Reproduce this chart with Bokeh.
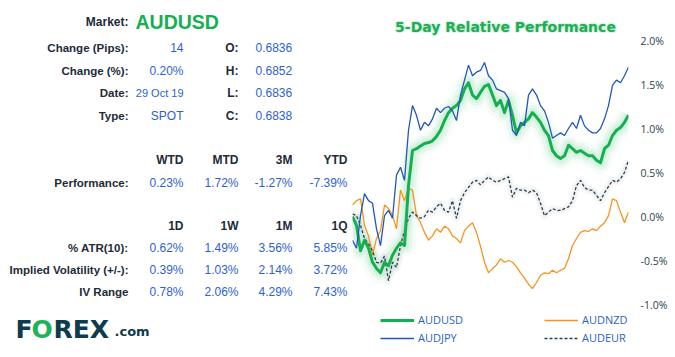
from bokeh.plotting import figure
from bokeh.layouts import row
from bokeh.models import (Range1d, LinearAxis, FixedTicker, PrintfTickFormatter,
                          Legend, Label)
from bokeh.core.properties import value
from bokeh.embed import file_html
from bokeh.resources import INLINE

# ---------------- data ----------------
market = "AUDUSD"
info_labels = ["Change (Pips):", "Change (%):", "Date:", "Type:"]
info_values = ["14", "0.20%", "29 Oct 19", "SPOT"]
ohlc_labels = ["O:", "H:", "L:", "C:"]
ohlc_values = ["0.6836", "0.6852", "0.6836", "0.6838"]
perf_headers = ["WTD", "MTD", "3M", "YTD"]
perf_label = "Performance:"
perf_values = ["0.23%", "1.72%", "-1.27%", "-7.39%"]
vol_headers = ["1D", "1W", "1M", "1Q"]
vol_labels = ["% ATR(10):", "Implied Volatility (+/-):", "IV Range"]
atr_values = ["0.62%", "1.49%", "3.56%", "5.85%"]
iv_values = ["0.39%", "1.03%", "2.14%", "3.72%"]
ivr_values = ["0.78%", "2.06%", "4.29%", "7.43%"]

chart_title = "5-Day Relative Performance"
y_ticks = [-1.0, -0.5, 0.0, 0.5, 1.0, 1.5, 2.0]

audusd = [0.00, -0.10, -0.39, -0.27, -0.36, -0.52, -0.59, -0.64, -0.52, -0.56,
          -0.44, -0.36, -0.30, -0.33, 0.35, 0.75, 0.77, 0.80, 0.83, 0.84,
          0.86, 0.91, 0.98, 1.09, 1.18, 1.23, 1.26, 1.32, 1.45, 1.52,
          1.38, 1.34, 1.41, 1.48, 1.50, 1.38, 1.26, 1.32, 1.18, 1.32,
          1.15, 0.95, 1.03, 1.07, 1.11, 1.18, 1.13, 1.07, 0.98, 0.92,
          0.75, 0.69, 0.66, 0.69, 0.81, 0.77, 0.73, 0.75, 0.72, 0.69,
          0.69, 0.64, 0.61, 0.77, 0.81, 0.92, 0.98, 1.01, 1.07, 1.15]
audjpy = [-0.27, -0.36, 0.01, 0.26, 0.18, 0.15, -0.14, -0.33, 0.01, 0.07,
          -0.02, 0.47, 0.56, 0.41, 0.98, 1.26, 1.15, 0.98, 1.07, 1.03,
          1.11, 1.23, 1.18, 1.23, 1.25, 1.20, 1.09, 1.38, 1.55, 1.72,
          1.60, 1.64, 1.66, 1.75, 1.60, 1.55, 1.45, 1.43, 1.41, 1.34,
          0.98, 0.92, 1.07, 1.03, 1.38, 1.45, 1.38, 1.26, 1.20, 1.07,
          0.89, 0.92, 0.95, 0.92, 1.00, 1.07, 1.00, 1.15, 1.03, 0.98,
          0.95, 0.95, 1.00, 1.11, 1.26, 1.49, 1.55, 1.52, 1.60, 1.70]
audnzd = [0.13, 0.18, 0.20, -0.10, -0.22, -0.44, -0.25, -0.16, 0.13, 0.09,
          0.01, -0.14, 0.30, 0.18, 0.32, 0.30, 0.01, -0.07, -0.18, -0.27,
          -0.22, -0.14, -0.18, -0.11, -0.14, -0.22, -0.25, -0.30, -0.16, -0.11,
          -0.07, -0.18, -0.34, -0.52, -0.64, -0.59, -0.55, -0.48, -0.52, -0.50,
          -0.52, -0.57, -0.64, -0.70, -0.77, -0.82, -0.75, -0.67, -0.64, -0.65,
          -0.61, -0.64, -0.61, -0.59, -0.48, -0.33, -0.25, -0.18, -0.16, -0.17,
          -0.14, -0.16, -0.11, -0.07, 0.01, 0.20, 0.18, 0.05, -0.07, 0.05]
audeur = [0.03, 0.01, -0.10, -0.25, -0.31, -0.39, -0.52, -0.53, -0.45, -0.73,
          -0.52, -0.58, -0.33, -0.16, -0.02, 0.05, 0.01, -0.02, 0.00, 0.07,
          0.05, 0.11, 0.15, 0.07, 0.05, 0.18, -0.02, 0.18, 0.27, 0.33,
          0.39, 0.41, 0.36, 0.41, 0.45, 0.41, 0.39, 0.41, 0.43, 0.45,
          0.22, 0.32, 0.30, 0.30, 0.27, 0.30, 0.27, 0.15, 0.01, 0.05,
          0.09, 0.07, 0.07, 0.09, 0.11, 0.18, 0.35, 0.41, 0.33, 0.30,
          0.30, 0.24, 0.18, 0.27, 0.34, 0.41, 0.39, 0.43, 0.50, 0.64]

# ---------------- style ----------------
LABEL_C = "#1e2b38"
VALUE_C = "#2e5fcf"
GREEN = "#14b04f"
BLUE = "#2356b8"
ORANGE = "#f7941d"
DARK = "#2a3f4c"
TFONT = value("Liberation Sans")
CFONT = "Open Sans"

# ---------------- left panel (table) ----------------
LW, H = 348, 356
left = figure(width=LW, height=H, x_range=Range1d(0, LW), y_range=Range1d(H, 0),
              output_backend="svg", toolbar_location=None,
              x_axis_type=None, y_axis_type=None, min_border=0)
left.grid.visible = False
left.outline_line_color = None

LAB_R = 128
COL_R = [183, 238, 292, 347]
OHLC_LAB_R = 238
OHLC_VAL_L = 255

row_market = 21
rows_info = [47, 70, 92, 115]
row_perf_h, row_perf = 159, 182
row_vol_h = 225
rows_vol = [247, 269, 291]

def txt(xs, ys, texts, size, color, align, bold):
    left.text(x=xs, y=ys, text=texts, text_font=TFONT,
              text_font_style="bold" if bold else "normal",
              text_font_size=size, text_color=color, text_align=align,
              text_baseline="middle")

txt([LAB_R], [row_market], ["Market:"], "12px", LABEL_C, "right", True)
txt([135], [row_market], [market], "19.5px", GREEN, "left", True)
txt([LAB_R] * 4, rows_info, info_labels, "11.5px", LABEL_C, "right", True)
txt([COL_R[0]] * 3, [rows_info[0], rows_info[1], rows_info[3]],
    [info_values[0], info_values[1], info_values[3]], "12px", VALUE_C, "right", False)
txt([COL_R[0]], [rows_info[2]], [info_values[2]], "11px", VALUE_C, "right", False)
txt([OHLC_LAB_R] * 4, rows_info, ohlc_labels, "12px", LABEL_C, "right", True)
txt([OHLC_VAL_L] * 4, rows_info, ohlc_values, "12px", VALUE_C, "left", False)

txt(COL_R, [row_perf_h] * 4, perf_headers, "12px", LABEL_C, "right", True)
txt([LAB_R], [row_perf], [perf_label], "11.5px", LABEL_C, "right", True)
txt(COL_R, [row_perf] * 4, perf_values, "12px", VALUE_C, "right", False)

txt(COL_R, [row_vol_h] * 4, vol_headers, "12px", LABEL_C, "right", True)
txt([LAB_R] * 3, rows_vol, vol_labels, "11.5px", LABEL_C, "right", True)
for vals, yy in zip([atr_values, iv_values, ivr_values], rows_vol):
    txt(COL_R, [yy] * 4, vals, "12px", VALUE_C, "right", False)

# logo
LOGO_FONT = value("DejaVu Sans")
logo_mid = 329
for lx, lt, lc in [(15, "F", "#0e3b4e"), (31, "O", "#1db35a"), (53, "REX", "#0e3b4e")]:
    left.text(x=[lx], y=[logo_mid], text=[lt], text_font=LOGO_FONT, text_font_style="bold",
              text_font_size="25px", text_color=lc, text_baseline="middle")
left.text(x=[114], y=[logo_mid + 2], text=[".com"], text_font=LOGO_FONT, text_font_style="bold",
          text_font_size="13px", text_color="#0e3b4e", text_baseline="middle")

# ---------------- right panel (chart) ----------------
RW = 323
N = len(audusd)
xs = list(range(N))

FRAME_LEFT_PAGE = 352
FRAME_BOTTOM_PAGE = H
TOP_TICK_PAGE, BOT_TICK_PAGE = 40, 304
PX = (BOT_TICK_PAGE - TOP_TICK_PAGE) / (y_ticks[-1] - y_ticks[0])
y_hi = y_ticks[-1] + TOP_TICK_PAGE / PX
y_lo = y_ticks[0] - (FRAME_BOTTOM_PAGE - BOT_TICK_PAGE) / PX

chart = figure(width=RW, height=H, x_range=Range1d(0, N - 1), y_range=Range1d(y_lo, y_hi),
               output_backend="svg", toolbar_location=None,
               x_axis_type=None, y_axis_type=None,
               min_border_left=FRAME_LEFT_PAGE - LW, min_border_right=43,
               min_border_top=0, min_border_bottom=0)
chart.grid.visible = False
chart.outline_line_color = None

axis = LinearAxis(ticker=FixedTicker(ticks=y_ticks),
                  formatter=PrintfTickFormatter(format="%.1f%%"),
                  axis_line_color=None, major_tick_line_color=None,
                  minor_tick_line_color=None, major_tick_out=0, major_tick_in=0,
                  major_label_standoff=12, major_label_text_font=CFONT,
                  major_label_text_font_size="10.5px", major_label_text_color="#2d3e4e")
chart.add_layout(axis, "right")

# glows
for w, a in [(22, 0.04), (15, 0.06), (9, 0.08)]:
    chart.line(xs, audusd, line_color=GREEN, line_width=w, line_alpha=a, line_join="round")
for w, a in [(8, 0.05), (5, 0.06)]:
    chart.line(xs, audeur, line_color="#7d8a92", line_width=w, line_alpha=a, line_join="round")

r_nzd = chart.line(xs, audnzd, line_color=ORANGE, line_width=1.3)
r_eur = chart.line(xs, audeur, line_color=DARK, line_width=1.3, line_dash="3 2")
r_usd = chart.line(xs, audusd, line_color=GREEN, line_width=3, line_join="round")
r_jpy = chart.line(xs, audjpy, line_color=BLUE, line_width=1.3)

def sx(px): return px - FRAME_LEFT_PAGE
def sy(py): return FRAME_BOTTOM_PAGE - py

legend_kw = dict(orientation="vertical", padding=0, margin=0, spacing=3,
                 glyph_width=34, glyph_height=14, label_height=14, label_standoff=4,
                 label_text_font=CFONT, label_text_font_size="11px",
                 label_text_color="#2f5fc4", border_line_color=None,
                 background_fill_alpha=0)
leg1 = Legend(items=[("AUDUSD", [r_usd]), ("AUDJPY", [r_jpy])],
              location=(sx(380), sy(345)), **legend_kw)
leg2 = Legend(items=[("AUDNZD", [r_nzd]), ("AUDEUR", [r_eur])],
              location=(sx(544), sy(345)), **legend_kw)
chart.add_layout(leg1)
chart.add_layout(leg2)

# title with soft glow
TX, TY = sx(505), sy(26)
for dx, dy in [(-1.5, 0), (1.5, 0), (0, -1.5), (0, 1.5), (-1, -1), (1, 1), (-1, 1), (1, -1)]:
    chart.add_layout(Label(x=TX + dx, y=TY + dy, x_units="screen", y_units="screen",
                           text=chart_title, text_font="DejaVu Sans",
                           text_font_style="bold", text_font_size="14px",
                           text_color=GREEN, text_alpha=0.08, text_align="center",
                           text_baseline="middle"))
chart.add_layout(Label(x=TX, y=TY, x_units="screen", y_units="screen",
                       text=chart_title, text_font="DejaVu Sans",
                       text_font_style="bold", text_font_size="14px",
                       text_color="#1fae55", text_align="center",
                       text_baseline="middle"))

layout = row(left, chart)
open("out.html", "w").write(file_html(layout, INLINE))
